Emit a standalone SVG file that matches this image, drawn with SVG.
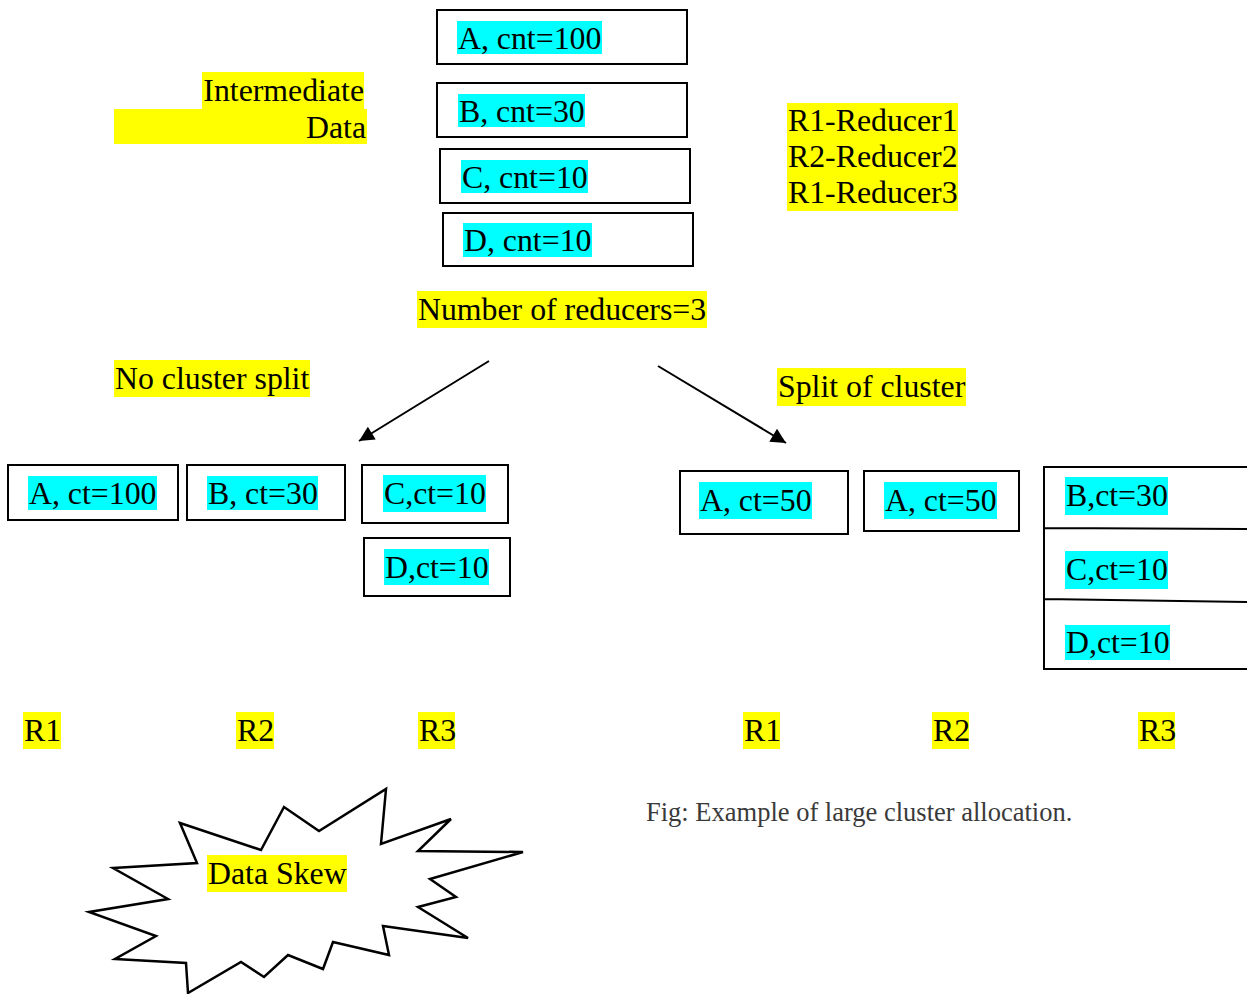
<svg xmlns="http://www.w3.org/2000/svg" width="1247" height="994" viewBox="0 0 1247 994">
  <style>
    .t { font-family: "Liberation Serif", "Times New Roman", serif; font-size: 31.8px; fill: #000; }
    .cap { font-family: "Liberation Serif", "Times New Roman", serif; font-size: 26.5px; fill: #3a3a3a; }
    .box { fill: #fff; stroke: #000; stroke-width: 2; }
    .hl-y { fill: #ffff00; }
    .hl-c { fill: #00ffff; }
    .edge { stroke: #000; stroke-width: 2; fill: none; }
    .burst { fill: #fff; stroke: #000; stroke-width: 2.5; stroke-linejoin: miter; }
  </style>
  <defs>
    <marker id="arrow" viewBox="0 0 10 10" refX="10" refY="5" markerWidth="18" markerHeight="15" markerUnits="userSpaceOnUse" orient="auto">
      <path d="M0,0 L10,5 L0,10 z" fill="#000"/>
    </marker>
  </defs>

  <rect width="1247" height="994" fill="#fff"/>

  <!-- labels -->
  <g id="label-intermediate">
    <rect class="hl-y" x="202" y="72" width="162" height="37"/>
    <rect class="hl-y" x="114" y="109" width="253" height="35"/>
    <text class="t" x="364" y="101" text-anchor="end">Intermediate</text>
    <text class="t" x="366" y="138" text-anchor="end">Data</text>
  </g>

  <g id="legend">
    <rect class="hl-y" x="787" y="103" width="171" height="108"/>
    <text class="t" x="788" y="131">R1-Reducer1</text>
    <text class="t" x="788" y="167">R2-Reducer2</text>
    <text class="t" x="788" y="203">R1-Reducer3</text>
  </g>

  <!-- input records -->
  <g id="in-a">
    <rect class="box" x="437" y="10" width="250" height="54"/>
    <rect class="hl-c" x="457" y="21" width="145" height="33"/>
    <text class="t" x="458" y="49">A, cnt=100</text>
  </g>
  <g id="in-b">
    <rect class="box" x="437" y="83" width="250" height="54"/>
    <rect class="hl-c" x="458" y="94" width="127" height="33"/>
    <text class="t" x="459" y="122">B, cnt=30</text>
  </g>
  <g id="in-c">
    <rect class="box" x="440" y="149" width="250" height="54"/>
    <rect class="hl-c" x="461" y="160" width="127" height="33"/>
    <text class="t" x="462" y="188">C, cnt=10</text>
  </g>
  <g id="in-d">
    <rect class="box" x="443" y="213" width="250" height="53"/>
    <rect class="hl-c" x="463" y="223" width="129" height="34"/>
    <text class="t" x="464" y="251">D, cnt=10</text>
  </g>

  <g id="label-reducers">
    <rect class="hl-y" x="417" y="291" width="290" height="37"/>
    <text class="t" x="418" y="320">Number of reducers=3</text>
  </g>

  <g id="label-no-split">
    <rect class="hl-y" x="114" y="360" width="196" height="37"/>
    <text class="t" x="115" y="389">No cluster split</text>
  </g>

  <g id="label-split">
    <rect class="hl-y" x="777" y="368" width="189" height="38"/>
    <text class="t" x="778" y="397">Split of cluster</text>
  </g>

  <!-- connectors -->
  <g id="connectors">
    <line class="edge" x1="489" y1="361" x2="359" y2="441" marker-end="url(#arrow)"/>
    <line class="edge" x1="658" y1="366" x2="786" y2="443" marker-end="url(#arrow)"/>
  </g>

  <!-- without split -->
  <g id="ns-a">
    <rect class="box" x="8" y="465" width="170" height="55"/>
    <rect class="hl-c" x="28" y="476" width="129" height="34"/>
    <text class="t" x="29" y="504">A, ct=100</text>
  </g>
  <g id="ns-b">
    <rect class="box" x="187" y="465" width="158" height="55"/>
    <rect class="hl-c" x="207" y="476" width="111" height="34"/>
    <text class="t" x="208" y="504">B, ct=30</text>
  </g>
  <g id="ns-c">
    <rect class="box" x="362" y="465" width="146" height="58"/>
    <rect class="hl-c" x="383" y="475" width="103" height="37"/>
    <text class="t" x="384" y="504">C,ct=10</text>
  </g>
  <g id="ns-d">
    <rect class="box" x="364" y="538" width="146" height="58"/>
    <rect class="hl-c" x="384" y="549" width="105" height="36"/>
    <text class="t" x="385" y="578">D,ct=10</text>
  </g>

  <!-- with split -->
  <g id="sp-a1">
    <rect class="box" x="680" y="471" width="168" height="63"/>
    <rect class="hl-c" x="699" y="482" width="113" height="37"/>
    <text class="t" x="700" y="511">A, ct=50</text>
  </g>
  <g id="sp-a2">
    <rect class="box" x="864" y="471" width="155" height="60"/>
    <rect class="hl-c" x="884" y="482" width="113" height="37"/>
    <text class="t" x="885" y="511">A, ct=50</text>
  </g>
  <g id="sp-bcd">
    <path class="edge" d="M1250,467 L1044,467 L1044,669 L1250,669 M1044,528 L1250,529 M1044,599 L1250,602"/>
    <rect class="hl-c" x="1065" y="477" width="103" height="38"/>
    <text class="t" x="1066" y="506">B,ct=30</text>
    <rect class="hl-c" x="1065" y="551" width="103" height="38"/>
    <text class="t" x="1066" y="580">C,ct=10</text>
    <rect class="hl-c" x="1065" y="625" width="105" height="35"/>
    <text class="t" x="1066" y="653">D,ct=10</text>
  </g>

  <!-- reducer labels -->
  <g id="reducer-labels">
    <rect class="hl-y" x="23" y="712" width="38" height="37"/>
    <text class="t" x="24" y="741">R1</text>
    <rect class="hl-y" x="236" y="712" width="38" height="37"/>
    <text class="t" x="237" y="741">R2</text>
    <rect class="hl-y" x="418" y="712" width="37" height="37"/>
    <text class="t" x="419" y="741">R3</text>
    <rect class="hl-y" x="743" y="712" width="37" height="37"/>
    <text class="t" x="744" y="741">R1</text>
    <rect class="hl-y" x="932" y="712" width="37" height="37"/>
    <text class="t" x="933" y="741">R2</text>
    <rect class="hl-y" x="1138" y="712" width="37" height="37"/>
    <text class="t" x="1139" y="741">R3</text>
  </g>

  <!-- caption -->
  <text class="cap" x="646" y="821">Fig: Example of large cluster allocation.</text>

  <!-- explosion shape -->
  <g id="data-skew">
    <polygon class="burst" points="180,823 261,850 284,807 319,831 386,789 381,844 451,819 418,851 523,852 430,879 456,897 418,907 468,938 383,926 389,955 333,942 323,969 288,955 264,977 241,962 188,993 186,963 115,959 156,936 89,912 168,899 113,868 197,863"/>
    <rect class="hl-y" x="207" y="855" width="140" height="37"/>
    <text class="t" x="208" y="884">Data Skew</text>
  </g>
</svg>
